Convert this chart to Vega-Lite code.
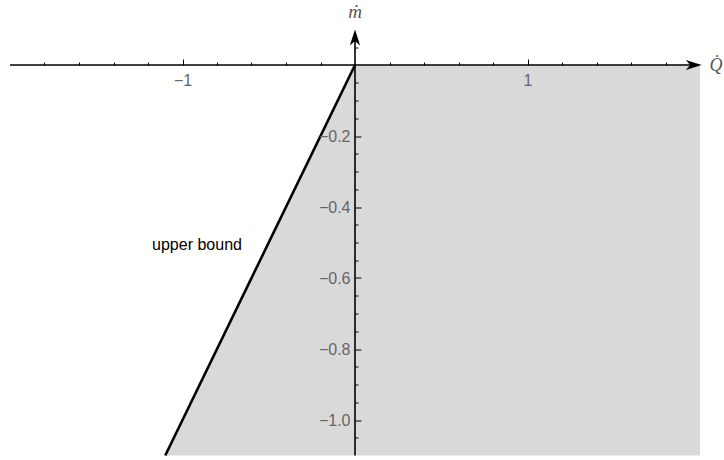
{
  "$schema": "https://vega.github.io/schema/vega-lite/v6.json",
  "width": 690,
  "height": 426,
  "autosize": {"type": "none"},
  "padding": {"left": 10, "top": 29.5, "right": 24, "bottom": 4.5},
  "background": "white",
  "config": {"view": {"stroke": null}, "font": "Liberation Sans"},
  "datasets": {
    "region": [
      {"Q": -1.1, "lo": -1.1, "hi": -1.1},
      {"Q": 0, "lo": -1.1, "hi": 0},
      {"Q": 2, "lo": -1.1, "hi": 0}
    ],
    "bound": [
      {"Q": -1.1, "m": -1.1},
      {"Q": 0, "m": 0}
    ],
    "xaxisline": [{"from": -2, "to": 1.96, "m": 0}],
    "yaxisline": [{"Q": 0, "from": -1.1, "to": 0.08}],
    "arrows": [
      {"Q": 2.01, "m": 0, "dir": "right"},
      {"Q": 0, "m": 0.1, "dir": "up"}
    ],
    "notes": [{"Q": -0.916, "m": -0.507, "label": "upper bound"}],
    "ytitle": [{"Q": 0, "m": 0.132, "label": "ṁ"}],
    "xtitle": [{"Q": 2.055, "m": -0.017, "label": "Q̇"}]
  },
  "resolve": {"axis": {"x": "independent", "y": "independent"}},
  "layer": [
    {
      "data": {"name": "region"},
      "mark": {"type": "area", "color": "#d9d9d9", "opacity": 1},
      "encoding": {
        "x": {
          "field": "Q", "type": "quantitative",
          "scale": {"domain": [-2, 2], "nice": false, "zero": false},
          "axis": {
            "orient": "top", "offset": -35.5, "domain": false, "grid": false, "labels": false, "zindex": 3,
            "values": [-1.8, -1.6, -1.4, -1.2, -0.8, -0.6, -0.4, -0.2, 0.2, 0.4, 0.6, 0.8, 1.2, 1.4, 1.6, 1.8],
            "tickSize": 3, "tickColor": "black", "tickWidth": 1, "title": null
          }
        },
        "y": {
          "field": "lo", "type": "quantitative",
          "scale": {"domain": [-1.1, 0.1], "nice": false, "zero": false},
          "axis": {
            "orient": "right", "offset": -345, "domain": false, "grid": false, "labels": false, "zindex": 3,
            "values": [0.05, -0.05, -0.1, -0.15, -0.25, -0.3, -0.35, -0.45, -0.5, -0.55, -0.65, -0.7, -0.75, -0.85, -0.9, -0.95, -1.05],
            "tickSize": 3, "tickColor": "black", "tickWidth": 1, "title": null
          }
        },
        "y2": {"field": "hi"}
      }
    },
    {
      "data": {"name": "bound"},
      "mark": {"type": "line", "color": "black", "strokeWidth": 2.6},
      "encoding": {
        "x": {
          "field": "Q", "type": "quantitative",
          "axis": {
            "orient": "top", "offset": -35.5, "domain": false, "grid": false, "zindex": 3,
            "values": [-1, 1], "format": "d",
            "tickSize": 6, "tickColor": "black", "tickWidth": 1,
            "labelBaseline": "top", "labelPadding": -13.5, "labelFlush": false, "labelOverlap": false, "labelBound": false,
            "labelFontSize": 16, "labelColor": "#666666", "labelFont": "Liberation Sans",
            "title": null
          }
        },
        "y": {
          "field": "m", "type": "quantitative",
          "axis": {
            "orient": "right", "offset": -345, "domain": false, "grid": false, "zindex": 3,
            "values": [-0.2, -0.4, -0.6, -0.8, -1.0], "format": ".1f",
            "tickSize": 6, "tickColor": "black", "tickWidth": 1,
            "labelAlign": "right", "labelBaseline": "middle", "labelPadding": -11, "labelFlush": false, "labelOverlap": false, "labelBound": false,
            "labelFontSize": 16, "labelColor": "#666666", "labelFont": "Liberation Sans",
            "title": null
          }
        }
      }
    },
    {
      "data": {"name": "xaxisline"},
      "mark": {"type": "rule", "color": "black", "strokeWidth": 1.6},
      "encoding": {
        "x": {"field": "from", "type": "quantitative", "axis": null},
        "x2": {"field": "to"},
        "y": {"field": "m", "type": "quantitative", "axis": null}
      }
    },
    {
      "data": {"name": "yaxisline"},
      "mark": {"type": "rule", "color": "black", "strokeWidth": 1.6},
      "encoding": {
        "x": {"field": "Q", "type": "quantitative", "axis": null},
        "y": {"field": "from", "type": "quantitative", "axis": null},
        "y2": {"field": "to"}
      }
    },
    {
      "data": {"name": "arrows"},
      "mark": {"type": "point", "filled": true, "opacity": 1, "color": "black", "strokeWidth": 0, "size": 1024},
      "encoding": {
        "x": {"field": "Q", "type": "quantitative", "axis": null},
        "y": {"field": "m", "type": "quantitative", "axis": null},
        "shape": {
          "field": "dir", "type": "nominal", "legend": null,
          "scale": {
            "domain": ["right", "up"],
            "range": ["M0,0L-1,-0.32L-0.72,0L-1,0.32Z", "M0,0L-0.32,1L0,0.72L0.32,1Z"]
          }
        }
      }
    },
    {
      "data": {"name": "notes"},
      "mark": {"type": "text", "font": "Liberation Sans", "fontSize": 16, "color": "black", "align": "center", "baseline": "middle"},
      "encoding": {
        "x": {"field": "Q", "type": "quantitative", "axis": null},
        "y": {"field": "m", "type": "quantitative", "axis": null},
        "text": {"field": "label"}
      }
    },
    {
      "data": {"name": "ytitle"},
      "mark": {"type": "text", "font": "Liberation Serif", "fontStyle": "italic", "fontSize": 19, "color": "#555555", "align": "center", "baseline": "alphabetic"},
      "encoding": {
        "x": {"field": "Q", "type": "quantitative", "axis": null},
        "y": {"field": "m", "type": "quantitative", "axis": null},
        "text": {"field": "label"}
      }
    },
    {
      "data": {"name": "xtitle"},
      "mark": {"type": "text", "font": "Liberation Serif", "fontStyle": "italic", "fontSize": 18, "color": "#555555", "align": "left", "baseline": "alphabetic"},
      "encoding": {
        "x": {"field": "Q", "type": "quantitative", "axis": null},
        "y": {"field": "m", "type": "quantitative", "axis": null},
        "text": {"field": "label"}
      }
    }
  ]
}
